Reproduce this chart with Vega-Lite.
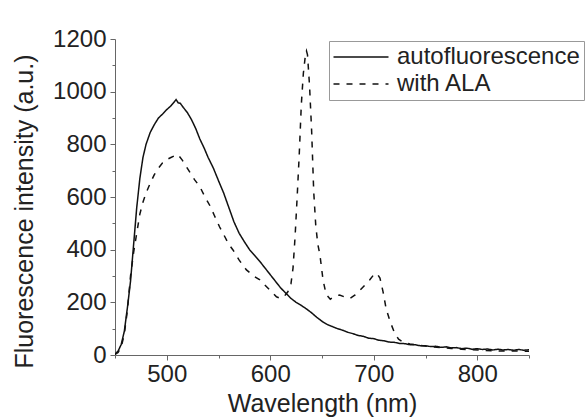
{
  "$schema": "https://vega.github.io/schema/vega-lite/v6.json",
  "width": 414,
  "height": 316,
  "autosize": {"type": "none"},
  "padding": {"left": 115, "top": 39, "right": 59, "bottom": 64},
  "background": "white",
  "config": {
    "font": "Liberation Sans",
    "view": {"stroke": null},
    "axis": {
      "grid": false,
      "domainColor": "#666",
      "tickColor": "#666",
      "labelColor": "#222",
      "titleColor": "#222",
      "labelFont": "Liberation Sans",
      "titleFont": "Liberation Sans",
      "labelFontSize": 24,
      "titleFontSize": 25,
      "titleFontWeight": "normal",
      "tickSize": 5,
      "domainWidth": 1,
      "tickWidth": 1
    },
    "legend": {
      "orient": "none",
      "legendX": 214,
      "legendY": 2,
      "fillColor": "white",
      "strokeColor": "#999",
      "padding": 4,
      "symbolType": "M-2.5,0L2.5,0",
      "symbolSize": 484,
      "symbolOffset": 16,
      "symbolStrokeWidth": 1.5,
      "symbolStrokeColor": "#111",
      "labelFont": "Liberation Sans",
      "labelFontSize": 24,
      "labelColor": "#222",
      "labelOffset": 24,
      "rowPadding": 3,
      "labelLimit": 400
    }
  },
  "data": {
    "values": [
      {"series": "autofluorescence", "wl": 450, "v": 3},
      {"series": "autofluorescence", "wl": 453, "v": 15},
      {"series": "autofluorescence", "wl": 456, "v": 40},
      {"series": "autofluorescence", "wl": 459, "v": 90},
      {"series": "autofluorescence", "wl": 462, "v": 180},
      {"series": "autofluorescence", "wl": 465, "v": 280},
      {"series": "autofluorescence", "wl": 468, "v": 420},
      {"series": "autofluorescence", "wl": 471, "v": 560},
      {"series": "autofluorescence", "wl": 474, "v": 670},
      {"series": "autofluorescence", "wl": 477, "v": 750},
      {"series": "autofluorescence", "wl": 480, "v": 800},
      {"series": "autofluorescence", "wl": 484, "v": 845},
      {"series": "autofluorescence", "wl": 488, "v": 875},
      {"series": "autofluorescence", "wl": 492, "v": 900},
      {"series": "autofluorescence", "wl": 496, "v": 915},
      {"series": "autofluorescence", "wl": 500, "v": 932},
      {"series": "autofluorescence", "wl": 504, "v": 946},
      {"series": "autofluorescence", "wl": 507, "v": 960},
      {"series": "autofluorescence", "wl": 509, "v": 970},
      {"series": "autofluorescence", "wl": 511, "v": 958},
      {"series": "autofluorescence", "wl": 513, "v": 956},
      {"series": "autofluorescence", "wl": 516, "v": 940},
      {"series": "autofluorescence", "wl": 520, "v": 920},
      {"series": "autofluorescence", "wl": 524, "v": 893},
      {"series": "autofluorescence", "wl": 528, "v": 860},
      {"series": "autofluorescence", "wl": 532, "v": 820},
      {"series": "autofluorescence", "wl": 536, "v": 787},
      {"series": "autofluorescence", "wl": 540, "v": 750},
      {"series": "autofluorescence", "wl": 545, "v": 710},
      {"series": "autofluorescence", "wl": 550, "v": 662},
      {"series": "autofluorescence", "wl": 555, "v": 615},
      {"series": "autofluorescence", "wl": 560, "v": 560},
      {"series": "autofluorescence", "wl": 565, "v": 505},
      {"series": "autofluorescence", "wl": 570, "v": 462},
      {"series": "autofluorescence", "wl": 575, "v": 430},
      {"series": "autofluorescence", "wl": 580, "v": 400},
      {"series": "autofluorescence", "wl": 585, "v": 378},
      {"series": "autofluorescence", "wl": 590, "v": 355},
      {"series": "autofluorescence", "wl": 595, "v": 330},
      {"series": "autofluorescence", "wl": 600, "v": 305},
      {"series": "autofluorescence", "wl": 605, "v": 280},
      {"series": "autofluorescence", "wl": 610, "v": 255},
      {"series": "autofluorescence", "wl": 615, "v": 235},
      {"series": "autofluorescence", "wl": 620, "v": 215},
      {"series": "autofluorescence", "wl": 625, "v": 200},
      {"series": "autofluorescence", "wl": 630, "v": 188},
      {"series": "autofluorescence", "wl": 635, "v": 175},
      {"series": "autofluorescence", "wl": 640, "v": 160},
      {"series": "autofluorescence", "wl": 645, "v": 143},
      {"series": "autofluorescence", "wl": 650, "v": 128},
      {"series": "autofluorescence", "wl": 655, "v": 116},
      {"series": "autofluorescence", "wl": 660, "v": 108},
      {"series": "autofluorescence", "wl": 665, "v": 100},
      {"series": "autofluorescence", "wl": 670, "v": 94},
      {"series": "autofluorescence", "wl": 675, "v": 86},
      {"series": "autofluorescence", "wl": 680, "v": 81},
      {"series": "autofluorescence", "wl": 685, "v": 74},
      {"series": "autofluorescence", "wl": 690, "v": 71},
      {"series": "autofluorescence", "wl": 695, "v": 64},
      {"series": "autofluorescence", "wl": 700, "v": 62},
      {"series": "autofluorescence", "wl": 705, "v": 56},
      {"series": "autofluorescence", "wl": 710, "v": 54},
      {"series": "autofluorescence", "wl": 715, "v": 49},
      {"series": "autofluorescence", "wl": 720, "v": 48},
      {"series": "autofluorescence", "wl": 725, "v": 44},
      {"series": "autofluorescence", "wl": 730, "v": 43},
      {"series": "autofluorescence", "wl": 735, "v": 39},
      {"series": "autofluorescence", "wl": 740, "v": 39},
      {"series": "autofluorescence", "wl": 745, "v": 35},
      {"series": "autofluorescence", "wl": 750, "v": 35},
      {"series": "autofluorescence", "wl": 755, "v": 32},
      {"series": "autofluorescence", "wl": 760, "v": 33},
      {"series": "autofluorescence", "wl": 765, "v": 29},
      {"series": "autofluorescence", "wl": 770, "v": 31},
      {"series": "autofluorescence", "wl": 775, "v": 27},
      {"series": "autofluorescence", "wl": 780, "v": 28},
      {"series": "autofluorescence", "wl": 785, "v": 24},
      {"series": "autofluorescence", "wl": 790, "v": 26},
      {"series": "autofluorescence", "wl": 795, "v": 22},
      {"series": "autofluorescence", "wl": 800, "v": 24},
      {"series": "autofluorescence", "wl": 805, "v": 21},
      {"series": "autofluorescence", "wl": 810, "v": 23},
      {"series": "autofluorescence", "wl": 815, "v": 19},
      {"series": "autofluorescence", "wl": 820, "v": 22},
      {"series": "autofluorescence", "wl": 825, "v": 19},
      {"series": "autofluorescence", "wl": 830, "v": 21},
      {"series": "autofluorescence", "wl": 835, "v": 18},
      {"series": "autofluorescence", "wl": 840, "v": 21},
      {"series": "autofluorescence", "wl": 845, "v": 18},
      {"series": "autofluorescence", "wl": 850, "v": 20},
      {"series": "with ALA", "wl": 450, "v": 2},
      {"series": "with ALA", "wl": 453, "v": 10},
      {"series": "with ALA", "wl": 456, "v": 30},
      {"series": "with ALA", "wl": 459, "v": 80},
      {"series": "with ALA", "wl": 462, "v": 170},
      {"series": "with ALA", "wl": 465, "v": 300},
      {"series": "with ALA", "wl": 468, "v": 390},
      {"series": "with ALA", "wl": 471, "v": 463},
      {"series": "with ALA", "wl": 474, "v": 535},
      {"series": "with ALA", "wl": 477, "v": 580},
      {"series": "with ALA", "wl": 480, "v": 615},
      {"series": "with ALA", "wl": 484, "v": 652},
      {"series": "with ALA", "wl": 488, "v": 685},
      {"series": "with ALA", "wl": 492, "v": 710},
      {"series": "with ALA", "wl": 496, "v": 730},
      {"series": "with ALA", "wl": 500, "v": 742},
      {"series": "with ALA", "wl": 504, "v": 750},
      {"series": "with ALA", "wl": 508, "v": 757},
      {"series": "with ALA", "wl": 510, "v": 762},
      {"series": "with ALA", "wl": 512, "v": 755},
      {"series": "with ALA", "wl": 515, "v": 740},
      {"series": "with ALA", "wl": 519, "v": 715},
      {"series": "with ALA", "wl": 523, "v": 690},
      {"series": "with ALA", "wl": 527, "v": 665},
      {"series": "with ALA", "wl": 532, "v": 639},
      {"series": "with ALA", "wl": 537, "v": 600},
      {"series": "with ALA", "wl": 542, "v": 565},
      {"series": "with ALA", "wl": 546, "v": 530},
      {"series": "with ALA", "wl": 551, "v": 487},
      {"series": "with ALA", "wl": 556, "v": 450},
      {"series": "with ALA", "wl": 560, "v": 420},
      {"series": "with ALA", "wl": 564, "v": 399},
      {"series": "with ALA", "wl": 570, "v": 360},
      {"series": "with ALA", "wl": 577, "v": 323},
      {"series": "with ALA", "wl": 584, "v": 300},
      {"series": "with ALA", "wl": 590, "v": 285},
      {"series": "with ALA", "wl": 595, "v": 265},
      {"series": "with ALA", "wl": 600, "v": 245},
      {"series": "with ALA", "wl": 606, "v": 221},
      {"series": "with ALA", "wl": 610, "v": 215},
      {"series": "with ALA", "wl": 614, "v": 225},
      {"series": "with ALA", "wl": 617, "v": 240},
      {"series": "with ALA", "wl": 620, "v": 270},
      {"series": "with ALA", "wl": 622, "v": 330},
      {"series": "with ALA", "wl": 624, "v": 450},
      {"series": "with ALA", "wl": 626, "v": 600},
      {"series": "with ALA", "wl": 628, "v": 760},
      {"series": "with ALA", "wl": 630, "v": 950},
      {"series": "with ALA", "wl": 632, "v": 1070},
      {"series": "with ALA", "wl": 634, "v": 1140},
      {"series": "with ALA", "wl": 635, "v": 1155},
      {"series": "with ALA", "wl": 636, "v": 1140},
      {"series": "with ALA", "wl": 638, "v": 1020},
      {"series": "with ALA", "wl": 640, "v": 850},
      {"series": "with ALA", "wl": 642, "v": 620},
      {"series": "with ALA", "wl": 644, "v": 490},
      {"series": "with ALA", "wl": 646, "v": 420},
      {"series": "with ALA", "wl": 648, "v": 380},
      {"series": "with ALA", "wl": 651, "v": 285},
      {"series": "with ALA", "wl": 654, "v": 230},
      {"series": "with ALA", "wl": 658, "v": 212},
      {"series": "with ALA", "wl": 662, "v": 222},
      {"series": "with ALA", "wl": 667, "v": 228},
      {"series": "with ALA", "wl": 672, "v": 220},
      {"series": "with ALA", "wl": 677, "v": 215},
      {"series": "with ALA", "wl": 682, "v": 228},
      {"series": "with ALA", "wl": 687, "v": 247},
      {"series": "with ALA", "wl": 692, "v": 268},
      {"series": "with ALA", "wl": 696, "v": 285},
      {"series": "with ALA", "wl": 700, "v": 305},
      {"series": "with ALA", "wl": 703, "v": 310},
      {"series": "with ALA", "wl": 706, "v": 292},
      {"series": "with ALA", "wl": 709, "v": 240},
      {"series": "with ALA", "wl": 712, "v": 175},
      {"series": "with ALA", "wl": 716, "v": 125},
      {"series": "with ALA", "wl": 720, "v": 85},
      {"series": "with ALA", "wl": 724, "v": 60},
      {"series": "with ALA", "wl": 728, "v": 50},
      {"series": "with ALA", "wl": 735, "v": 42},
      {"series": "with ALA", "wl": 745, "v": 36},
      {"series": "with ALA", "wl": 755, "v": 32},
      {"series": "with ALA", "wl": 765, "v": 28},
      {"series": "with ALA", "wl": 775, "v": 25},
      {"series": "with ALA", "wl": 785, "v": 22},
      {"series": "with ALA", "wl": 795, "v": 20},
      {"series": "with ALA", "wl": 805, "v": 18},
      {"series": "with ALA", "wl": 815, "v": 16},
      {"series": "with ALA", "wl": 825, "v": 15},
      {"series": "with ALA", "wl": 835, "v": 15},
      {"series": "with ALA", "wl": 850, "v": 14}
    ]
  },
  "layer": [
    {
      "mark": {"type": "line", "color": "#111", "strokeWidth": 1.5, "clip": true},
      "encoding": {
        "x": {
          "field": "wl", "type": "quantitative",
          "scale": {"domain": [450, 850], "nice": false, "zero": false},
          "axis": {"values": [500, 600, 700, 800], "title": "Wavelength (nm)", "labelPadding": 2, "titlePadding": 5, "orient": "bottom"}
        },
        "y": {
          "field": "v", "type": "quantitative",
          "scale": {"domain": [0, 1200], "nice": false},
          "axis": {"values": [0, 200, 400, 600, 800, 1000, 1200], "format": "d", "title": "Fluorescence intensity (a.u.)", "labelPadding": 4, "titlePadding": 15, "titleY": 172, "orient": "left"}
        },
        "strokeDash": {
          "field": "series", "type": "nominal",
          "scale": {"domain": ["autofluorescence", "with ALA"], "range": [[1, 0], [6, 7]]},
          "legend": {"title": null}
        }
      }
    },
    {
      "mark": {"type": "line", "opacity": 0},
      "encoding": {
        "x": {
          "field": "wl", "type": "quantitative",
          "scale": {"domain": [450, 850], "nice": false, "zero": false},
          "axis": {"values": [450, 550, 650, 750, 850], "labels": false, "domain": false, "tickSize": 3, "title": null, "orient": "bottom"}
        },
        "y": {
          "field": "v", "type": "quantitative",
          "scale": {"domain": [0, 1200], "nice": false},
          "axis": {"values": [100, 300, 500, 700, 900, 1100], "labels": false, "domain": false, "tickSize": 3, "title": null, "orient": "left"}
        },
        "detail": {"field": "series", "type": "nominal"}
      }
    }
  ],
  "resolve": {"axis": {"x": "independent", "y": "independent"}}
}
